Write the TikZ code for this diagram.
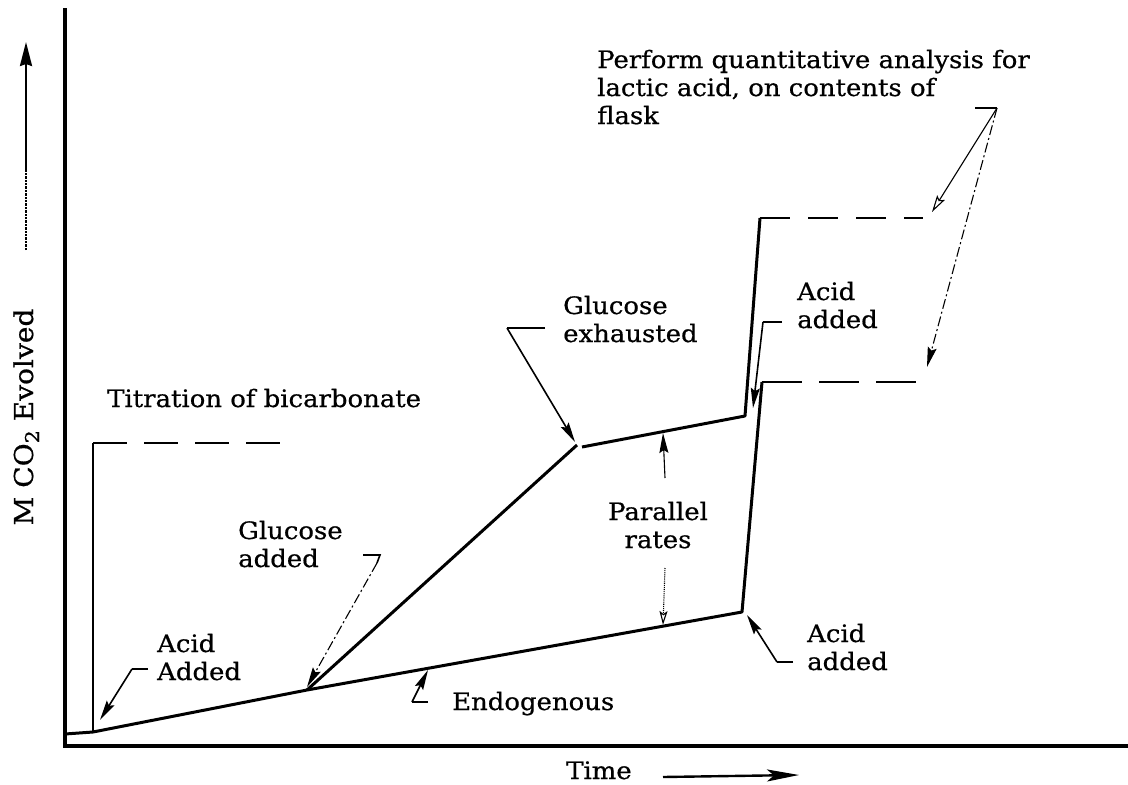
\documentclass[tikz,border=0pt]{standalone}
\usepackage{fontspec}
\setmainfont{DejaVu Serif}[FakeBold=0.6,FakeStretch=1.08]
\usetikzlibrary{arrows.meta}
\begin{document}
\begin{tikzpicture}[x=1pt,y=-1pt,
  axisline/.style={line width=3.5pt},
  curveline/.style={line width=3pt},
  dashcurve/.style={line width=2.5pt},
  leader/.style={line width=1.6pt},
  fine/.style={line width=1.1pt},
  tipfill/.style={-{Stealth[length=20pt,width=9pt,inset=3pt]}},
  tipopen/.style={-{Stealth[open,length=17pt,width=9pt,inset=3pt]}},
  lbl/.style={font={\fontsize{24}{28}\selectfont},inner sep=0pt,align=left,anchor=base west},
  lblc/.style={font={\fontsize{24}{28}\selectfont},inner sep=0pt,align=center,anchor=base}]
\useasboundingbox (0,0) rectangle (1128,785);
% key points
\coordinate (ytop) at (65,8);
\coordinate (O) at (65,746);
\coordinate (xend) at (1128,746);
\coordinate (s0) at (65,734);
\coordinate (s1) at (93,732);
\coordinate (t1) at (93,443);
\coordinate (t2) at (287,443);
\coordinate (g) at (307,690);
\coordinate (e1) at (742,612);
\coordinate (e2) at (762,382);
\coordinate (e3) at (922,382);
\coordinate (x1) at (577,445);
\coordinate (u1) at (582,447);
\coordinate (u2) at (745,416);
\coordinate (u3) at (760,218);
\coordinate (u4) at (923,218);
% axes
\draw[axisline] (ytop) -- (O) -- (xend);
% y-axis label and arrow
\coordinate (ya0) at (26,250);
\coordinate (ya1) at (26,170);
\coordinate (ya2) at (26,42);
\draw[line width=2.4pt,densely dotted] (ya0) -- (ya1);
\draw[line width=2.4pt,-{Stealth[length=24pt,width=12pt,inset=2pt]}] (ya1) -- (ya2);
\node[font={\fontsize{26}{30}\selectfont},inner sep=0pt,anchor=base,rotate=90] (ylab) at (33,417)
  {M CO\raisebox{-6pt}{\fontsize{19}{19}\selectfont 2} Evolved};
% x-axis label and arrow
\node[lbl] (xlab) at (566,779) {Time};
\coordinate (xa0) at (663,777);
\coordinate (xa1) at (799,775);
\draw[line width=2.4pt,-{Stealth[length=32pt,width=12pt,inset=7pt]}] (xa0) -- (xa1);
% curves
\draw[curveline] (s0) -- (s1);
\draw[leader] (s1) -- (t1);
\draw[dashcurve,dash pattern=on 34pt off 17pt] (t1) -- (t2);
\draw[curveline,line join=round] (s1) -- (g) -- (e1) -- (e2);
\draw[dashcurve,dash pattern=on 40pt off 17pt] (e2) -- (e3);
\draw[curveline] (g) -- (x1);
\draw[curveline,line join=round] (u1) -- (u2) -- (u3);
\draw[dashcurve,dash pattern=on 30pt off 18pt] (u3) -- (u4);
% labels (anchor = baseline of the last line)
\node[lbl] (perf) at (597,124) {Perform quantitative analysis for\\lactic acid, on contents of\\flask};
\node[lbl] (titr) at (107,407) {Titration of bicarbonate};
\node[lbl] (gexh) at (563,342) {Glucose\\exhausted};
\node[lbl] (aad1) at (797,328) {Acid\\added};
\node[lbl] (gadd) at (238,567) {Glucose\\added};
\node[lbl] (aad0) at (157,680) {Acid\\Added};
\node[lblc] (par) at (658,548) {Parallel\\rates};
\node[lbl] (endo) at (452,710) {Endogenous};
\node[lbl] (aad2) at (807,670) {Acid\\added};
% leaders: Acid Added (left)
\coordinate (la0) at (148,669);
\coordinate (la1) at (132,669);
\coordinate (la2) at (100,720);
\draw[leader] (la0) -- (la1);
\draw[leader,tipfill] (la1) -- (la2);
% Glucose added
\coordinate (lg0) at (363,555);
\coordinate (lg1) at (380,555);
\coordinate (lg2) at (377,563);
\coordinate (lg3) at (307,687);
\draw[leader] (lg0) -- (lg1) -- (lg2);
\draw[fine,dash pattern=on 10pt off 3pt on 2pt off 3pt,tipfill] (lg2) -- (lg3);
% Glucose exhausted
\coordinate (lx0) at (545,328);
\coordinate (lx1) at (507,328);
\coordinate (lx2) at (575,442);
\draw[leader] (lx0) -- (lx1);
\draw[leader,tipfill] (lx1) -- (lx2);
% Endogenous
\coordinate (ln0) at (428,702);
\coordinate (ln1) at (412,702);
\coordinate (ln2) at (428,670);
\draw[leader] (ln0) -- (ln1);
\draw[leader,tipfill] (ln1) -- (ln2);
% Parallel rates
\coordinate (lp0) at (665,478);
\coordinate (lp1) at (663,433);
\coordinate (lp2) at (665,568);
\coordinate (lp3) at (663,625);
\draw[fine,tipfill] (lp0) -- (lp1);
\draw[fine,densely dotted,-{Stealth[open,length=14pt,width=8pt,inset=3pt]}] (lp2) -- (lp3);
% Acid added (upper right)
\coordinate (lu0) at (782,322);
\coordinate (lu1) at (763,322);
\coordinate (lu2) at (753,408);
\draw[leader] (lu0) -- (lu1);
\draw[leader,tipfill] (lu1) -- (lu2);
% Acid added (lower right)
\coordinate (lr0) at (793,662);
\coordinate (lr1) at (777,662);
\coordinate (lr2) at (747,615);
\draw[leader] (lr0) -- (lr1);
\draw[leader,tipfill] (lr1) -- (lr2);
% Perform analysis leaders
\coordinate (lq0) at (975,108);
\coordinate (lq1) at (997,108);
\coordinate (lq2) at (932,212);
\coordinate (lq3) at (927,367);
\draw[leader] (lq0) -- (lq1);
\draw[fine,tipopen] (lq1) -- (lq2);
\draw[fine,dash pattern=on 10pt off 3pt on 2pt off 3pt,tipfill] (lq1) -- (lq3);
\end{tikzpicture}
\end{document}
